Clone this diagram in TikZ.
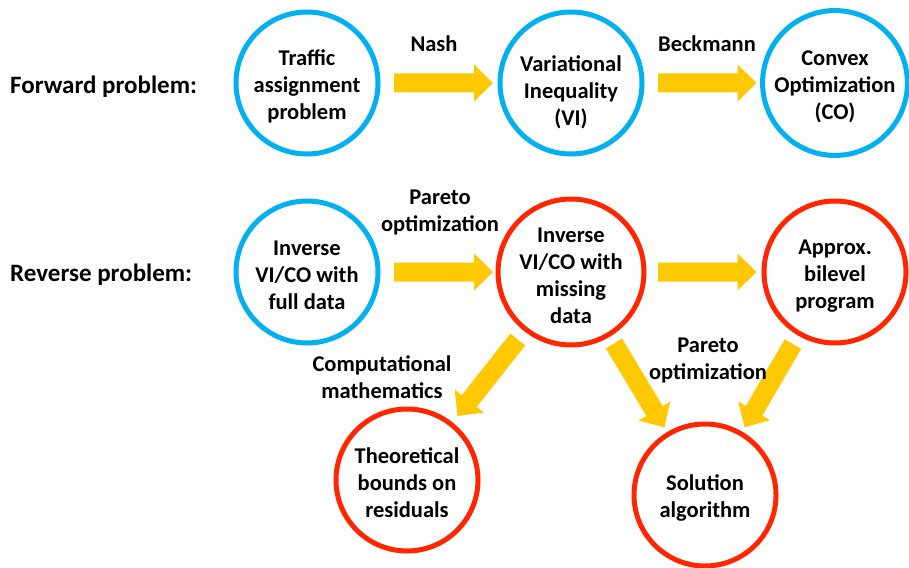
\documentclass[tikz,border=0pt]{standalone}
\usepackage{fontspec}
\setmainfont{Carlito}
\usetikzlibrary{calc}
\definecolor{cblue}{RGB}{0,176,240}
\definecolor{cred}{RGB}{255,38,0}
\definecolor{cgold}{RGB}{255,200,0}
% block arrow from node #1 to node #2, gap #3 after start border, gap #4 before end border
\newcommand\blockarrow[4]{%
  \fill[cgold] let \p1=(#1.center), \p2=(#2.center),
    \n1={atan2(\y2-\y1,\x2-\x1)}, \n2={veclen(\x2-\x1,\y2-\y1)},
    \n3={(73.5+#3)*1pt}, \n4={\n2-(73.5+#4)*1pt}, \n5={\n2-(73.5+#4+19)*1pt} in
    ($(\p1)+(\n1:\n3)+(\n1+90:9.5pt)$) --
    ($(\p1)+(\n1:\n5)+(\n1+90:9.5pt)$) --
    ($(\p1)+(\n1:\n5)+(\n1+90:18.5pt)$) --
    ($(\p1)+(\n1:\n4)$) --
    ($(\p1)+(\n1:\n5)+(\n1-90:18.5pt)$) --
    ($(\p1)+(\n1:\n5)+(\n1-90:9.5pt)$) --
    ($(\p1)+(\n1:\n3)+(\n1-90:9.5pt)$) -- cycle;}
\newcommand\toplift{\rule{0pt}{22pt}}
\newcommand\lowertext{\rule{0pt}{34pt}}
\begin{document}
\begin{tikzpicture}[x=1pt,y=-1pt,
  circ/.style={circle, draw, line width=5pt, minimum size=142pt, inner sep=0pt,
    align=center, font=\fontsize{22.5}{27}\selectfont\bfseries},
  lab/.style={align=center, inner sep=0pt, font=\fontsize{22.5}{27}\selectfont\bfseries},
  rowlab/.style={anchor=base west, inner sep=0pt, font=\fontsize{25}{30}\selectfont\bfseries}]
\useasboundingbox (0,0) rectangle (909,567);
\fill[white] (0,0) rectangle (909,567);

\node[rowlab] (fwd) at (10,94) {Forward problem:};
\node[rowlab] (rev) at (10,281) {Reverse problem:};

\node[circ, draw=cblue] (A) at (307,83) {\toplift Traffic\\assignment\\problem};
\node[circ, draw=cblue] (B) at (571,83) {\lowertext Variational\\Inequality\\(VI)};
\node[circ, draw=cblue] (C) at (835,83) {\toplift Convex\\Optimization\\(CO)};
\node[circ, draw=cblue] (D) at (307,272) {\toplift Inverse\\VI/CO with\\full data};
\node[circ, draw=cred] (E) at (571,272) {\toplift Inverse\\VI/CO with\\missing\\data};
\node[circ, draw=cred] (F) at (835,272) {\toplift Approx.\\bilevel\\program};
\node[circ, draw=cred] (G) at (407,480) {\toplift Theoretical\\bounds on\\residuals};
\node[circ, draw=cred] (H) at (705,495) {\toplift Solution\\algorithm};

\blockarrow{A}{B}{13.5}{4.5}
\blockarrow{B}{C}{13.5}{5}
\blockarrow{D}{E}{13.5}{4.5}
\blockarrow{E}{F}{13.5}{5}
\blockarrow{E}{G}{12.5}{8}
\blockarrow{E}{H}{10}{5.5}
\blockarrow{F}{H}{10}{5}

\node[lab] (l1) at (434,44) {Nash};
\node[lab] (l2) at (707,44) {Beckmann};
\node[lab] (l3) at (440,212) {Pareto\\optimization};
\node[lab] (l4) at (382,377) {Computational\\mathematics};
\node[lab] (l5) at (708,360) {Pareto\\optimization};
\end{tikzpicture}
\end{document}
